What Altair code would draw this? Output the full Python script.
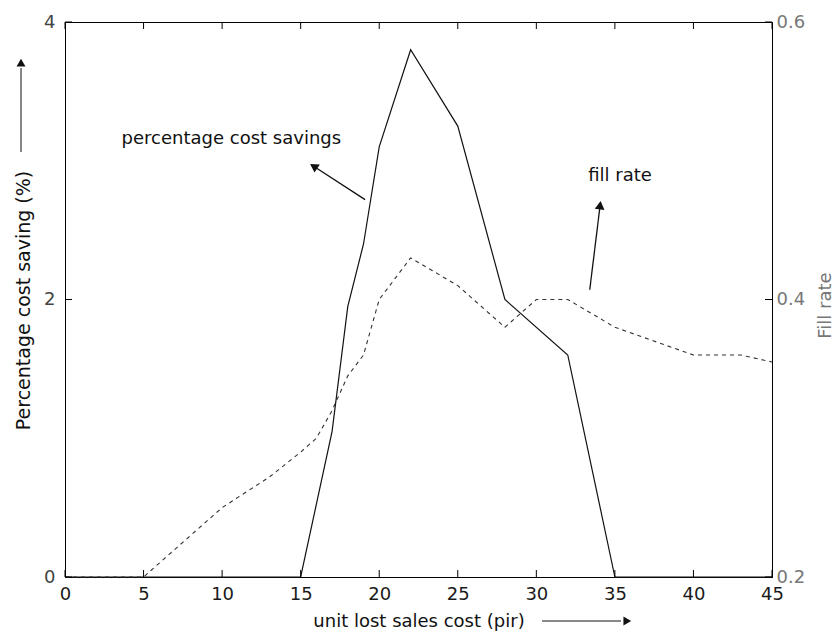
import altair as alt
import pandas as pd

# ---- data ----
cost_x = [0, 15, 17, 18, 19, 20, 22, 25, 28, 32, 35, 45]
cost_saving = [0, 0, 1.05, 1.95, 2.4, 3.1, 3.8, 3.25, 2.0, 1.6, 0, 0]

fill_x = [0, 5, 10, 13, 15, 16, 17, 18, 19, 20, 21, 22, 25, 28, 30, 32, 35, 40, 43, 45]
fill_rate = [0.2, 0.2, 0.25, 0.272, 0.29, 0.30, 0.32, 0.345, 0.36, 0.40, 0.415, 0.43,
             0.41, 0.38, 0.40, 0.40, 0.38, 0.36, 0.36, 0.355]

x_ticks = [0, 5, 10, 15, 20, 25, 30, 35, 40, 45]
left_ticks = [0, 2, 4]
right_ticks = [0.2, 0.4, 0.6]

# annotations (in left-axis data units)
note_text = ["percentage cost savings", "fill rate"]
note_x = [3.6, 33.3]
note_y = [3.16, 2.89]
arrow_tail_x = [19.1, 33.4]
arrow_tail_y = [2.72, 2.07]
arrow_head_x = [15.9, 34.05]
arrow_head_y = [2.955, 2.67]
arrow_angle = [303, 7]

W, H = 707, 555
FONT = "DejaVu Sans"

cost_df = pd.DataFrame({"x": cost_x, "saving": cost_saving})
fill_df = pd.DataFrame({"x": fill_x, "fill": fill_rate})
xt_df = pd.DataFrame({"x": x_ticks})
lt_df = pd.DataFrame({"v": left_ticks})
rt_df = pd.DataFrame({"v": right_ticks})
note_df = pd.DataFrame({"text": note_text, "x": note_x, "y": note_y})
arrow_df = pd.DataFrame({"x": arrow_tail_x, "y": arrow_tail_y,
                         "x2": arrow_head_x, "y2": arrow_head_y, "angle": arrow_angle})
one = pd.DataFrame({"a": [0]})

xs = alt.Scale(domain=[0, 45], nice=False, zero=False)
yl = alt.Scale(domain=[0, 4], nice=False)
yr = alt.Scale(domain=[0.2, 0.6], nice=False, zero=False)

X_TITLE = "unit lost sales cost (pir)"
x_axis = alt.Axis(values=x_ticks, title=X_TITLE, ticks=False, grid=False,
                  labelFont=FONT, labelFontSize=18, labelColor="#1a1a1a", labelPadding=8,
                  labelFlush=False, domainColor="black",
                  titleFont=FONT, titleFontSize=18, titleFontWeight="normal",
                  titleColor="#111", titleY=44, titleBaseline="middle")


def X(field):
    return alt.X(field, scale=xs, axis=x_axis, title=X_TITLE)


left_axis = alt.Axis(values=left_ticks, title="Percentage cost saving (%)", ticks=False,
                     grid=False, labelFont=FONT, labelFontSize=18, labelColor="#444",
                     labelPadding=10, labelFlush=False, domainColor="black",
                     titleFont=FONT, titleFontSize=19, titleFontWeight="normal",
                     titleColor="#111", titleX=-42, titleY=278, titleAngle=270,
                     titleBaseline="middle", titleAlign="center")

right_axis = alt.Axis(values=right_ticks, title="Fill rate", orient="right", ticks=False,
                      grid=False, format=".1f", labelFont=FONT, labelFontSize=18,
                      labelColor="#777", labelPadding=4, labelFlush=False,
                      domainColor="black",
                      titleFont=FONT, titleFontSize=18, titleFontWeight="normal",
                      titleColor="#777", titleX=53, titleY=283, titleAngle=270,
                      titleBaseline="middle", titleAlign="center")

solid = alt.Chart(cost_df).mark_line(color="#111", strokeWidth=1.2).encode(
    x=X("x:Q"),
    y=alt.Y("saving:Q", scale=yl, axis=left_axis),
)

dashed = alt.Chart(fill_df).mark_line(color="#333", strokeWidth=1.1, strokeDash=[4, 4]).encode(
    x=X("x:Q"),
    y=alt.Y("fill:Q", scale=yr, axis=right_axis),
)

bottom_ticks = alt.Chart(xt_df).mark_rule(color="black").encode(
    x=X("x:Q"), y=alt.value(H), y2=alt.value(H - 7))
top_ticks = alt.Chart(xt_df).mark_rule(color="black").encode(
    x=X("x:Q"), y=alt.value(0), y2=alt.value(7))
left_tick_marks = alt.Chart(lt_df).mark_rule(color="black").encode(
    y=alt.Y("v:Q", scale=yl, axis=None), x=alt.value(0), x2=alt.value(7))
right_tick_marks = alt.Chart(rt_df).mark_rule(color="black").encode(
    y=alt.Y("v:Q", scale=yr, axis=None), x=alt.value(W - 7), x2=alt.value(W))

notes = alt.Chart(note_df).mark_text(align="left", baseline="middle", font=FONT,
                                     fontSize=18, color="#111").encode(
    x=X("x:Q"),
    y=alt.Y("y:Q", scale=yl, axis=None),
    text="text:N")

arrow_lines = alt.Chart(arrow_df).mark_rule(color="#111", strokeWidth=1.3).encode(
    x=X("x:Q"), x2="x2:Q",
    y=alt.Y("y:Q", scale=yl, axis=None), y2="y2:Q")
arrow_heads = alt.Chart(arrow_df).mark_point(shape="triangle", filled=True, size=95,
                                             color="#111", opacity=1).encode(
    x=X("x2:Q"),
    y=alt.Y("y2:Q", scale=yl, axis=None),
    angle=alt.Angle("angle:Q", scale=None))

# decorative arrows beside the axis titles
xt_arrow = alt.Chart(one).mark_rule(color="#111", strokeWidth=1).encode(
    x=alt.value(477), x2=alt.value(556), y=alt.value(H + 44), y2=alt.value(H + 44))
xt_head = alt.Chart(one).mark_point(shape="triangle", filled=True, size=80, color="#111",
                                    opacity=1, angle=90).encode(
    x=alt.value(561), y=alt.value(H + 44))
yt_arrow = alt.Chart(one).mark_rule(color="#111", strokeWidth=1).encode(
    x=alt.value(-44), x2=alt.value(-44), y=alt.value(130), y2=alt.value(46))
yt_head = alt.Chart(one).mark_point(shape="triangle", filled=True, size=80, color="#111",
                                    opacity=1).encode(
    x=alt.value(-44), y=alt.value(42))

chart = alt.layer(solid, dashed, bottom_ticks, top_ticks, left_tick_marks, right_tick_marks,
                  notes, arrow_lines, arrow_heads, xt_arrow, xt_head, yt_arrow, yt_head
                  ).resolve_scale(y="independent").properties(
    width=W, height=H,
    autosize=alt.AutoSizeParams(type="none"),
    padding={"left": 65, "top": 22, "right": 65, "bottom": 57},
    background="white",
).configure_view(stroke="black", strokeWidth=1).configure_axis(grid=False)

chart.save("out.html", embed_options={"renderer": "svg", "actions": False})
